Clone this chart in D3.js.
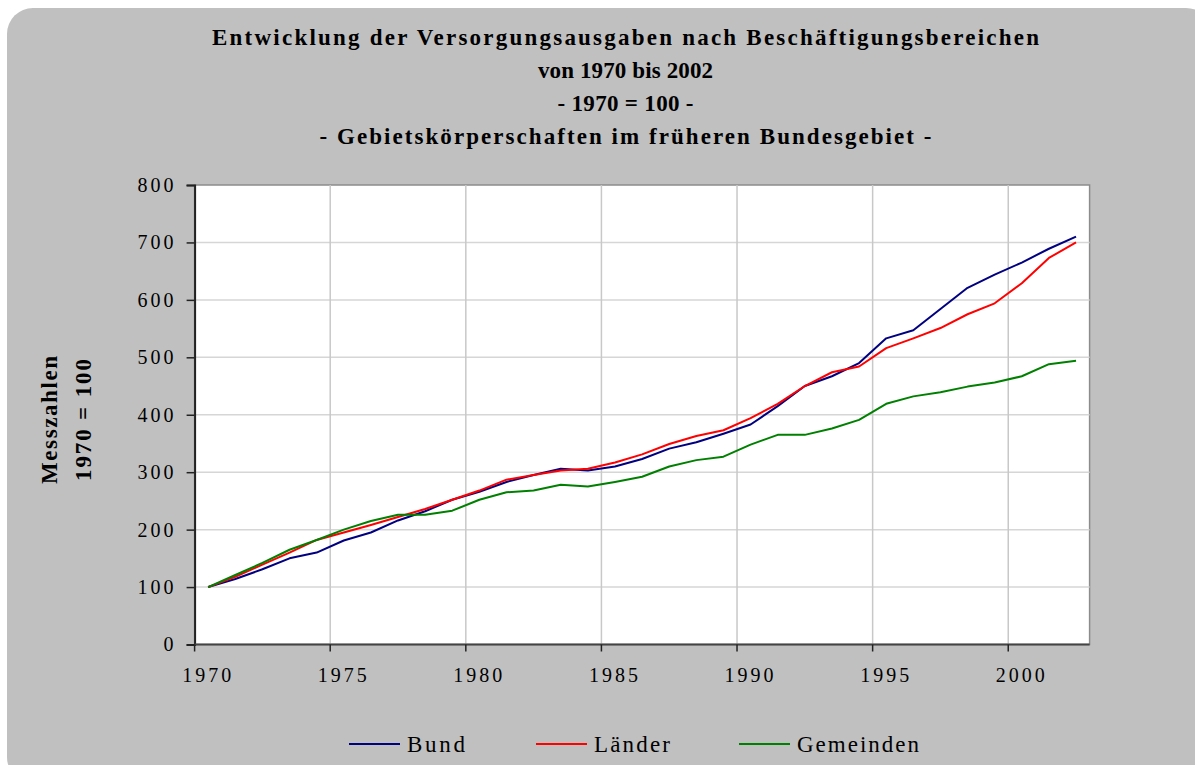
<!DOCTYPE html>
<html>
<head>
<meta charset="utf-8">
<script src="https://cdn.jsdelivr.net/npm/d3@7"></script>
<style>
  body { margin: 0; background: #fff; }
  svg { display: block; }
  text { font-family: "Liberation Serif", "Times New Roman", serif; fill: #000; }
</style>
</head>
<body>
<div id="chart"></div>
<script>
// data (1970 = 100)
var years = d3.range(1970, 2003);
var bund =      [100,114,131,150,160,181,195,216,232,252,266,283,295,306,303,310,323,341,352,367,383,415,450,467,490,533,547,584,621,644,665,689,710];
var laender =   [100,118,139,160,182,195,208,222,236,252,268,287,295,303,306,317,331,349,363,373,394,419,450,474,484,516,533,551,575,594,629,673,700];
var gemeinden = [100,121,142,165,182,200,215,226,226,233,252,265,268,278,275,283,292,310,321,327,348,365,365,376,391,419,432,439,449,456,467,488,494];
var seriesNames = ["Bund", "Länder", "Gemeinden"];
var seriesColors = ["#000080", "#ff0000", "#008000"];
var yTicks = [0,100,200,300,400,500,600,700,800];
var xLabelYears = [1970,1975,1980,1985,1990,1995,2000];
var titleLines = [
    "Entwicklung der Versorgungsausgaben nach Beschäftigungsbereichen",
    "von 1970 bis 2002",
    "- 1970 = 100 -",
    "- Gebietskörperschaften im früheren Bundesgebiet -"
];

var W = 1195, H = 765;
var plot = { left: 194.6, right: 1089.6, top: 185, bottom: 644.5 };

var svg = d3.select("#chart").append("svg")
    .attr("width", W)
    .attr("height", H);

// grey panel with rounded corners (cut off at right/bottom)
svg.append("rect")
    .attr("x", 7).attr("y", 8)
    .attr("width", W + 10).attr("height", H + 10)
    .attr("rx", 26).attr("ry", 26)
    .attr("fill", "#c0c0c0");

// title
var titleY = [45, 78, 111, 144];
var titleW = [827, 175, 136, 612];
svg.selectAll(".title")
    .data(titleLines)
    .enter().append("text")
    .attr("class", "title")
    .attr("x", W / 2 + 28)
    .attr("y", function(d, i) { return titleY[i]; })
    .attr("text-anchor", "middle")
    .attr("font-size", 23)
    .attr("font-weight", "bold")
    .attr("textLength", function(d, i) { return titleW[i]; })
    .attr("lengthAdjust", "spacing")
    .text(function(d) { return d; });

var x = d3.scaleBand()
    .domain(years)
    .range([plot.left, plot.right])
    .padding(0);

var y = d3.scaleLinear()
    .domain([0, 800])
    .range([plot.bottom, plot.top]);

// plot area
svg.append("rect")
    .attr("x", plot.left).attr("y", plot.top)
    .attr("width", plot.right - plot.left)
    .attr("height", plot.bottom - plot.top)
    .attr("fill", "#fff")
    .attr("stroke", "#8c8c8c")
    .attr("stroke-width", 1.5);

// horizontal grid
svg.append("g")
    .selectAll("line")
    .data(yTicks.slice(1, -1))
    .enter().append("line")
    .attr("x1", plot.left).attr("x2", plot.right)
    .attr("y1", function(d) { return y(d); })
    .attr("y2", function(d) { return y(d); })
    .attr("stroke", "#d6d6d6")
    .attr("stroke-width", 1.5);

// vertical grid at every 5th category boundary
var bounds = xLabelYears.slice(1).map(function(yr) { return x(yr); });
svg.append("g")
    .selectAll("line")
    .data(bounds)
    .enter().append("line")
    .attr("x1", function(d) { return d; })
    .attr("x2", function(d) { return d; })
    .attr("y1", plot.top).attr("y2", plot.bottom)
    .attr("stroke", "#c8c8c8")
    .attr("stroke-width", 1.5);

// y axis
var yAxis = svg.append("g")
    .attr("transform", "translate(" + plot.left + ",0)")
    .call(d3.axisLeft(y).tickValues(yTicks).tickSize(8).tickPadding(10));
yAxis.select(".domain").attr("stroke", "#222").attr("stroke-width", 2);
yAxis.selectAll(".tick line").attr("stroke", "#222").attr("stroke-width", 1.5);
yAxis.selectAll(".tick text")
    .attr("font-size", 20)
    .attr("letter-spacing", 3)
    .attr("font-family", "Liberation Serif, serif");

// x axis
svg.append("line")
    .attr("x1", plot.left).attr("x2", plot.right)
    .attr("y1", plot.bottom).attr("y2", plot.bottom)
    .attr("stroke", "#444").attr("stroke-width", 2);

svg.append("g")
    .selectAll("line")
    .data([x(1970)].concat(bounds))
    .enter().append("line")
    .attr("x1", function(d) { return d; })
    .attr("x2", function(d) { return d; })
    .attr("y1", plot.bottom).attr("y2", plot.bottom + 7)
    .attr("stroke", "#222").attr("stroke-width", 1.5);

svg.append("g")
    .selectAll("text")
    .data(xLabelYears)
    .enter().append("text")
    .attr("x", function(d) { return x(d) + x.bandwidth() / 2; })
    .attr("y", 682)
    .attr("text-anchor", "middle")
    .attr("font-size", 20)
    .attr("letter-spacing", 3)
    .text(function(d) { return d; });

// y axis title
var yTitle = svg.append("text")
    .attr("transform", "translate(57,420) rotate(-90)")
    .attr("text-anchor", "middle")
    .attr("font-size", 23)
    .attr("font-weight", "bold");
yTitle.append("tspan").attr("x", 0).attr("dy", 0)
    .attr("textLength", 128).attr("lengthAdjust", "spacing").text("Messzahlen");
yTitle.append("tspan").attr("x", 0).attr("dy", 34)
    .attr("textLength", 122).attr("lengthAdjust", "spacing").text("1970 = 100");

// lines
var seriesData = [bund, laender, gemeinden];
var line = d3.line()
    .x(function(d, i) { return x(years[i]) + x.bandwidth() / 2; })
    .y(function(d) { return y(d); });

svg.append("g")
    .selectAll("path")
    .data(seriesData)
    .enter().append("path")
    .attr("d", line)
    .attr("fill", "none")
    .attr("stroke", function(d, i) { return seriesColors[i]; })
    .attr("stroke-width", 2)
    .attr("stroke-linejoin", "round");

// legend
var legendX = [349, 536, 739];
var legendW = [58, 76, 122];
var legend = svg.append("g")
    .selectAll("g")
    .data(seriesNames)
    .enter().append("g")
    .attr("transform", function(d, i) { return "translate(" + legendX[i] + ",744)"; });
legend.append("line")
    .attr("x1", 0).attr("x2", 51)
    .attr("stroke", function(d, i) { return seriesColors[i]; })
    .attr("stroke-width", 2);
legend.append("text")
    .attr("x", 58)
    .attr("y", 8)
    .attr("font-size", 23)
    .attr("textLength", function(d, i) { return legendW[i]; })
    .attr("lengthAdjust", "spacing")
    .text(function(d) { return d; });
</script>
</body>
</html>
